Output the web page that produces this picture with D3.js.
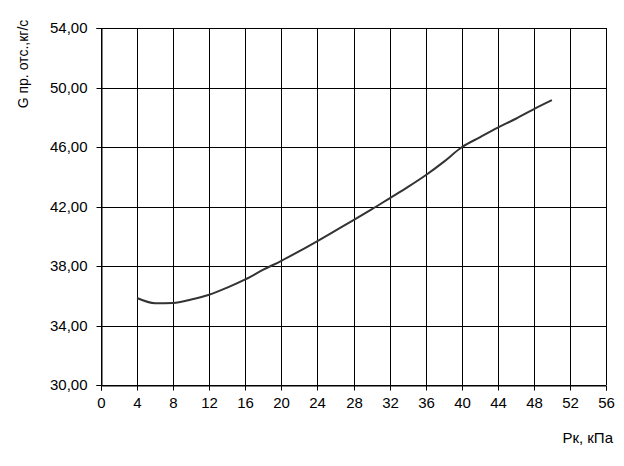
<!DOCTYPE html>
<html><head><meta charset="utf-8">
<script src="https://cdn.jsdelivr.net/npm/d3@7/dist/d3.min.js"></script>
<style>body{margin:0;background:#fff}svg{display:block}text{font-family:"Liberation Sans",Arial,sans-serif}</style>
</head><body>
<svg id="c" width="624" height="466"></svg>
<script>
const pk = [4,6,8,10,12,14,16,18,20,22,24,26,28,30,32,34,36,38,40,42,44,46,48,50];
const gValues = [35.85,35.5,35.52,35.75,36.07,36.55,37.1,37.75,38.35,39.0,39.68,40.38,41.08,41.8,42.55,43.3,44.1,45.0,45.98,46.65,47.3,47.9,48.55,49.15];
const xTicks = [0,4,8,12,16,20,24,28,32,36,40,44,48,52,56];
const yTicks = [30,34,38,42,46,50,54];
const xTitle = "Рк, кПа";
const yTitle = "G пр. отс.,кг/с";

const svg = d3.select("#c");
const L=101, R=606, T=28, B=385;
const x = d3.scaleLinear().domain([0,56]).range([L,R]);
const y = d3.scaleLinear().domain([30,54]).range([B,T]);
const fmt = d => d.toFixed(2).replace(".", ",");

// grid
svg.append("g").selectAll("line").data(xTicks).join("line")
  .attr("x1",d=>Math.round(x(d))+0.5).attr("x2",d=>Math.round(x(d))+0.5)
  .attr("y1",T).attr("y2",B).attr("stroke","#000").attr("stroke-width",1);
svg.append("g").selectAll("line").data(yTicks).join("line")
  .attr("y1",d=>Math.round(y(d))+0.5).attr("y2",d=>Math.round(y(d))+0.5)
  .attr("x1",L).attr("x2",R).attr("stroke","#000").attr("stroke-width",1);

const xa = svg.append("g").attr("transform",`translate(0,${B+0.5})`)
  .call(d3.axisBottom(x).tickValues(xTicks).tickSize(5).tickPadding(7).tickFormat(d3.format("d")));
const ya = svg.append("g").attr("transform",`translate(${L+0.5},0)`)
  .call(d3.axisLeft(y).tickValues(yTicks).tickSize(5).tickPadding(9).tickFormat(fmt));
[xa,ya].forEach(a=>{
  a.select(".domain").attr("stroke","#000");
  a.selectAll(".tick line").attr("stroke","#000");
  a.selectAll("text").attr("fill","#000").attr("font-size",15).attr("font-family","'Liberation Sans',Arial,sans-serif");
});
xa.selectAll(".tick").attr("transform",d=>`translate(${Math.round(x(d))+0.5},0)`);
ya.selectAll(".tick").attr("transform",d=>`translate(0,${Math.round(y(d))+0.5})`);

svg.append("path").datum(pk.map((p,i)=>[p,gValues[i]]))
  .attr("d", d3.line().x(d=>x(d[0])).y(d=>y(d[1])).curve(d3.curveMonotoneX))
  .attr("fill","none").attr("stroke","#333").attr("stroke-width",2);

svg.append("text").attr("x",613).attr("y",443).attr("text-anchor","end")
  .attr("font-size",15).text(xTitle);
svg.append("text").attr("transform","translate(28,64) rotate(-90)").attr("text-anchor","middle")
  .attr("font-size",14).text(yTitle);
</script>
</body></html>
